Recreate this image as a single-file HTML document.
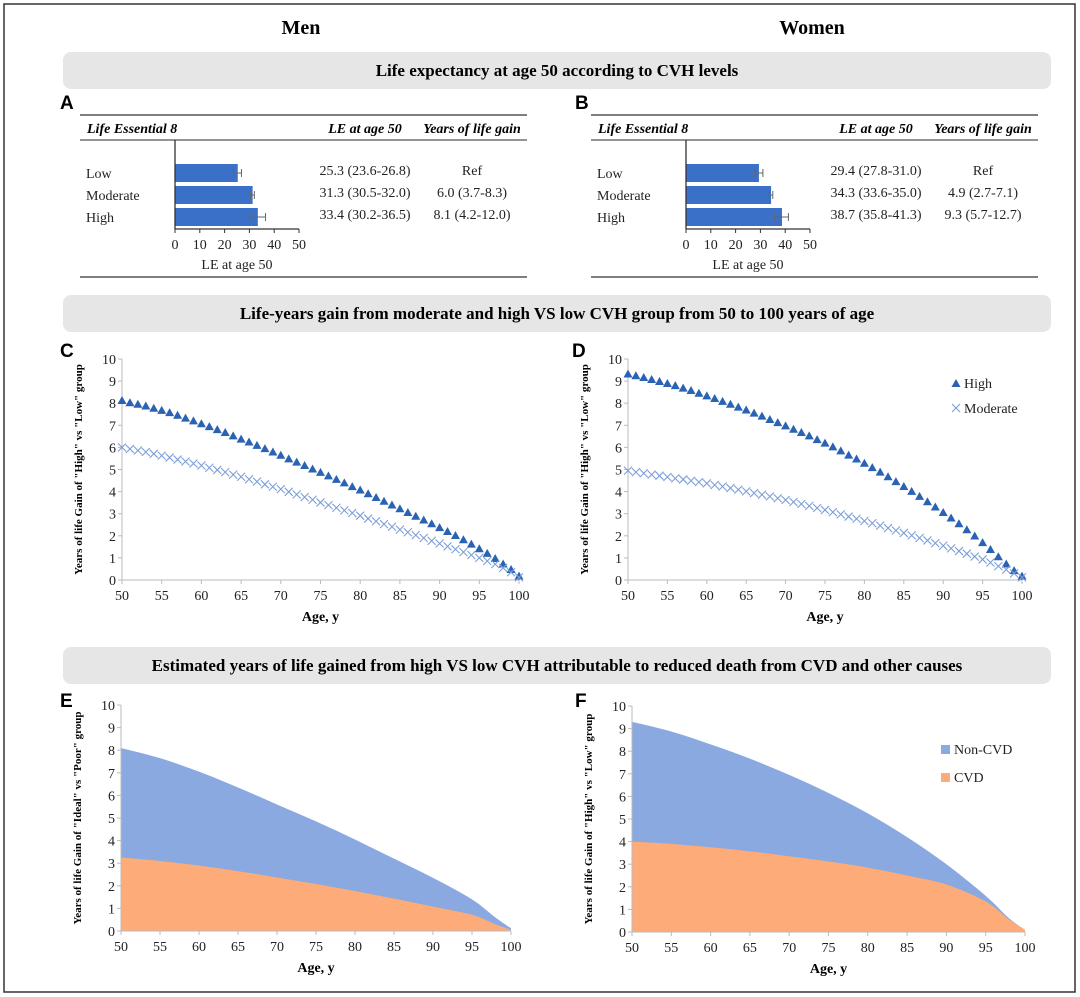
<!DOCTYPE html>
<html><head><meta charset="utf-8"><style>
body{margin:0;background:#fff;}
svg{display:block;}
text{font-family:"Liberation Serif",serif;}
text.L{font-family:"Liberation Sans",sans-serif;}
.t{font-size:14px;fill:#222}
</style></head><body>
<svg id="fig" width="1080" height="997" xmlns="http://www.w3.org/2000/svg">
<rect x="4" y="4" width="1071" height="988" fill="#fff" stroke="#333" stroke-width="1.5"/>
<text x="301" y="34" text-anchor="middle" font-size="20" font-weight="bold">Men</text>
<text x="812" y="34" text-anchor="middle" font-size="20" font-weight="bold">Women</text>
<rect x="63" y="52" width="988" height="37" rx="8" fill="#e6e6e6"/>
<text x="557" y="76" text-anchor="middle" font-size="17" font-weight="bold">Life expectancy at age 50 according to CVH levels</text>
<rect x="63" y="295" width="988" height="37" rx="8" fill="#e6e6e6"/>
<text x="557" y="319" text-anchor="middle" font-size="17" font-weight="bold">Life-years gain from moderate and high VS low CVH group from 50 to 100 years of age</text>
<rect x="63" y="647" width="988" height="37" rx="8" fill="#e6e6e6"/>
<text x="557" y="671" text-anchor="middle" font-size="17" font-weight="bold">Estimated years of life gained from high VS low CVH attributable to reduced death from CVD and other causes</text>
<g id="layer"></g>
</svg>
<script>
// ---- data ----
const tableLevels=["Low","Moderate","High"];
const menLE=[25.3,31.3,33.4];
const menLo=[23.6,30.5,30.2];
const menHi=[26.8,32.0,36.5];
const menLEText=["25.3 (23.6-26.8)","31.3 (30.5-32.0)","33.4 (30.2-36.5)"];
const menGainText=["Ref","6.0 (3.7-8.3)","8.1 (4.2-12.0)"];
const womenLE=[29.4,34.3,38.7];
const womenLo=[27.8,33.6,35.8];
const womenHi=[31.0,35.0,41.3];
const womenLEText=["29.4 (27.8-31.0)","34.3 (33.6-35.0)","38.7 (35.8-41.3)"];
const womenGainText=["Ref","4.9 (2.7-7.1)","9.3 (5.7-12.7)"];
const barTicks=[0,10,20,30,40,50];

const ages=[50,51,52,53,54,55,56,57,58,59,60,61,62,63,64,65,66,67,68,69,70,71,72,73,74,75,76,77,78,79,80,81,82,83,84,85,86,87,88,89,90,91,92,93,94,95,96,97,98,99,100];
const menHigh=[8.1,8.0,7.93,7.85,7.75,7.65,7.55,7.43,7.3,7.18,7.05,6.92,6.78,6.65,6.5,6.35,6.22,6.07,5.92,5.77,5.62,5.46,5.31,5.16,5.0,4.85,4.69,4.53,4.37,4.2,4.05,3.88,3.71,3.54,3.37,3.2,3.03,2.86,2.69,2.52,2.35,2.17,1.99,1.8,1.6,1.39,1.18,0.95,0.7,0.45,0.15];
const menModerate=[6.0,5.93,5.86,5.79,5.71,5.63,5.54,5.45,5.36,5.27,5.18,5.08,4.98,4.88,4.77,4.67,4.56,4.45,4.33,4.22,4.11,3.99,3.87,3.75,3.63,3.51,3.39,3.27,3.15,3.03,2.91,2.78,2.66,2.53,2.41,2.28,2.16,2.03,1.9,1.77,1.65,1.52,1.39,1.26,1.13,1.0,0.86,0.72,0.55,0.35,0.12];
const womenHigh=[9.3,9.22,9.14,9.05,8.96,8.87,8.77,8.66,8.55,8.43,8.31,8.19,8.06,7.93,7.8,7.67,7.53,7.39,7.24,7.1,6.95,6.8,6.65,6.5,6.33,6.17,6.0,5.82,5.63,5.45,5.26,5.06,4.86,4.65,4.43,4.21,3.99,3.76,3.52,3.28,3.03,2.78,2.52,2.25,1.97,1.67,1.36,1.03,0.7,0.4,0.15];
const womenModerate=[4.95,4.88,4.83,4.77,4.72,4.66,4.6,4.55,4.49,4.43,4.37,4.3,4.23,4.16,4.09,4.01,3.93,3.86,3.78,3.7,3.62,3.53,3.44,3.35,3.26,3.17,3.07,2.97,2.87,2.77,2.67,2.57,2.46,2.35,2.24,2.13,2.02,1.9,1.79,1.67,1.55,1.43,1.31,1.19,1.06,0.93,0.79,0.63,0.47,0.3,0.12];

const areaAges=[50,55,60,65,70,75,80,85,90,95,98,100];
const menTotal=[8.1,7.65,7.05,6.35,5.6,4.85,4.05,3.2,2.35,1.4,0.6,0.12];
const menCVD=[3.25,3.1,2.9,2.65,2.37,2.08,1.77,1.43,1.08,0.72,0.3,0.05];
const womenTotal=[9.3,8.87,8.3,7.67,6.95,6.15,5.25,4.2,3.0,1.6,0.6,0.1];
const womenCVD=[4.0,3.9,3.75,3.57,3.35,3.12,2.85,2.5,2.1,1.35,0.55,0.1];

const xTicks=[50,55,60,65,70,75,80,85,90,95,100];
const yTicks=[0,1,2,3,4,5,6,7,8,9,10];

// ---- helpers ----
const NS="http://www.w3.org/2000/svg";
const layer=document.getElementById('layer');
function mk(tag,attrs,parent,txt){const e=document.createElementNS(NS,tag);for(const k in attrs)e.setAttribute(k,attrs[k]);if(txt!==undefined)e.textContent=txt;(parent||layer).appendChild(e);return e;}

function letter(x,y,s){const e=mk('text',{x:x,y:y,'font-size':19,'font-weight':'bold',class:'L'},layer,s);

}

function table(ox,le,lo,hi,leT,gT,name){
  const g=mk('g',{});
  
  
  mk('line',{x1:ox,y1:115,x2:ox+447,y2:115,stroke:'#555','stroke-width':1.5},g);
  mk('line',{x1:ox,y1:140,x2:ox+447,y2:140,stroke:'#555','stroke-width':1.2},g);
  mk('line',{x1:ox,y1:277,x2:ox+447,y2:277,stroke:'#555','stroke-width':1.5},g);
  mk('text',{x:ox+7,y:133,'font-size':14,'font-weight':'bold','font-style':'italic'},g,'Life Essential 8');
  mk('text',{x:ox+285,y:133,'font-size':14,'font-weight':'bold','font-style':'italic','text-anchor':'middle'},g,'LE at age 50');
  mk('text',{x:ox+392,y:133,'font-size':14,'font-weight':'bold','font-style':'italic','text-anchor':'middle'},g,'Years of life gain');
  const x0=ox+95,x1=ox+219;
  const sx=v=>x0+(v-barTicks[0])/(barTicks[barTicks.length-1]-barTicks[0])*(x1-x0);
  const rowY=[164,186,208];
  tableLevels.forEach((lv,i)=>{
    const y=rowY[i];
    const r=mk('rect',{x:sx(0),y:y,width:sx(le[i])-sx(0),height:18,fill:'#3a70c8'},g);
    
    
    mk('path',{d:`M${sx(lo[i])},${y+9}H${sx(hi[i])}M${sx(lo[i])},${y+5}V${y+13}M${sx(hi[i])},${y+5}V${y+13}`,stroke:'#666','stroke-width':1,fill:'none'},g);
    mk('text',{x:ox+6,y:y+14,class:'t'},g,lv);
    mk('text',{x:ox+285,y:y+11,class:'t','text-anchor':'middle'},g,leT[i]);
    mk('text',{x:ox+392,y:y+11,class:'t','text-anchor':'middle'},g,gT[i]);
  });
  mk('line',{x1:x0,y1:140,x2:x0,y2:229,stroke:'#333','stroke-width':1.3},g);
  mk('line',{x1:x0,y1:229,x2:x1,y2:229,stroke:'#333','stroke-width':1.3},g);
  barTicks.forEach(t=>{
    mk('line',{x1:sx(t),y1:229,x2:sx(t),y2:233,stroke:'#333'},g);
    mk('text',{x:sx(t),y:249,class:'t','text-anchor':'middle'},g,t);
  });
  mk('text',{x:(x0+x1)/2,y:269,class:'t','text-anchor':'middle'},g,'LE at age 50');
}

function axes(g,sx,sy,ytitle,x0,x1,y0,y1){
  mk('line',{x1:x0,y1:y1,x2:x0,y2:y0,stroke:'#bbb'},g);
  mk('line',{x1:x0,y1:y0,x2:x1,y2:y0,stroke:'#bbb'},g);
  yTicks.forEach(t=>{mk('line',{x1:x0-4,y1:sy(t),x2:x0,y2:sy(t),stroke:'#bbb'},g);
    mk('text',{x:x0-6,y:sy(t)+5,class:'t','text-anchor':'end'},g,t);});
  xTicks.forEach(t=>{mk('line',{x1:sx(t),y1:y0,x2:sx(t),y2:y0+4,stroke:'#bbb'},g);
    mk('text',{x:sx(t),y:y0+20,class:'t','text-anchor':'middle'},g,t);});
  mk('text',{x:(x0+x1)/2,y:y0+41,'font-size':14,'font-weight':'bold','text-anchor':'middle'},g,'Age, y');
  const cy=(y0+y1)/2;
  mk('text',{x:x0-40,y:cy,'font-size':11,'font-weight':'bold','text-anchor':'middle',transform:`rotate(-90 ${x0-40} ${cy})`},g,ytitle);
}

function scatter(x0,x1,y0,y1,high,mod,name,legend){
  const g=mk('g',{});
  
  
  const sx=v=>x0+(v-50)/50*(x1-x0), sy=v=>y0-v/10*(y0-y1);
  axes(g,sx,sy,'Years of life Gain of "High" vs "Low" group',x0,x1,y0,y1);
  ages.forEach((a,i)=>{const x=sx(a),y=sy(high[i]);
    const p=mk('path',{d:`M${x},${y-5}L${x+4.5},${y+3}L${x-4.5},${y+3}Z`,fill:'#2a62b4'},g);
    
    });
  ages.forEach((a,i)=>{const x=sx(a),y=sy(mod[i]);
    const p=mk('path',{d:`M${x-4},${y-4}L${x+4},${y+4}M${x+4},${y-4}L${x-4},${y+4}`,stroke:'#7d9fd8','stroke-width':1.1,fill:'none'},g);
    
    });
  if(legend){
    const lg=mk('g',{},g);
    
    
    mk('path',{d:'M956,379L960.5,387L951.5,387Z',fill:'#2a62b4'},lg);
    mk('text',{x:964,y:388,class:'t'},lg,'High');
    mk('path',{d:'M952,404L960,412M960,404L952,412',stroke:'#7d9fd8','stroke-width':1.1},lg);
    mk('text',{x:964,y:413,class:'t'},lg,'Moderate');
  }
}

function smooth(pts){let d=`M${pts[0][0]},${pts[0][1]}`;
  for(let i=0;i<pts.length-1;i++){const p0=pts[i-1]||pts[i],p1=pts[i],p2=pts[i+1],p3=pts[i+2]||p2;
    d+=`C${p1[0]+(p2[0]-p0[0])/6},${p1[1]+(p2[1]-p0[1])/6} ${p2[0]-(p3[0]-p1[0])/6},${p2[1]-(p3[1]-p1[1])/6} ${p2[0]},${p2[1]}`;}
  return d;}

function area(x0,x1,y0,y1,total,cvd,ytitle,name,legend){
  const g=mk('g',{});
  
  
  const sx=v=>x0+(v-50)/50*(x1-x0), sy=v=>y0-v/10*(y0-y1);
  const tp=areaAges.map((a,i)=>[sx(a),sy(total[i])]);
  const cp=areaAges.map((a,i)=>[sx(a),sy(cvd[i])]);
  const a1=mk('path',{d:smooth(tp)+`L${sx(100)},${y0}L${sx(50)},${y0}Z`,fill:'#89a9e0'},g);
  
  
  const a2=mk('path',{d:smooth(cp)+`L${sx(100)},${y0}L${sx(50)},${y0}Z`,fill:'#fdab78'},g);
  
  
  axes(g,sx,sy,ytitle,x0,x1,y0,y1);
  if(legend){
    const lg=mk('g',{},g);
    
    
    mk('rect',{x:941,y:745,width:9,height:9,fill:'#89a9e0'},lg);
    mk('text',{x:954,y:754,class:'t'},lg,'Non-CVD');
    mk('rect',{x:941,y:773,width:9,height:9,fill:'#fdab78'},lg);
    mk('text',{x:954,y:782,class:'t'},lg,'CVD');
  }
}

letter(60,109,'A');letter(575,109,'B');
table(80,menLE,menLo,menHi,menLEText,menGainText,'table-men');
table(591,womenLE,womenLo,womenHi,womenLEText,womenGainText,'table-women');
letter(60,357,'C');letter(572,357,'D');
scatter(122,519,580,359,menHigh,menModerate,'chart-c-men',false);
scatter(628,1022,580,359,womenHigh,womenModerate,'chart-d-women',true);
letter(60,707,'E');letter(575,707,'F');
area(121,511,931,705,menTotal,menCVD,'Years of life Gain of "Ideal" vs "Poor" group','chart-e-men',false);
area(632,1025,932,706,womenTotal,womenCVD,'Years of life Gain of "High" vs "Low" group','chart-f-women',true);
</script>
</body></html>
